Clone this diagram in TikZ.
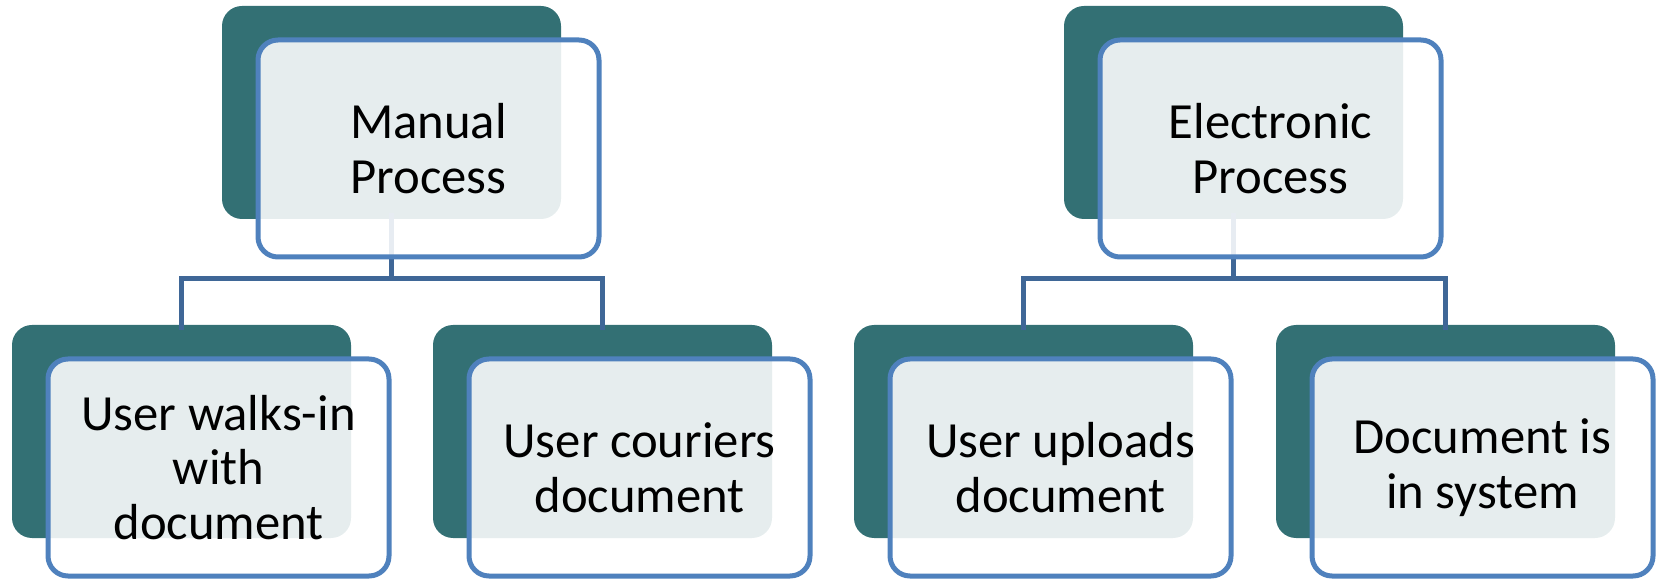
\documentclass[tikz,border=0pt]{standalone}
\usepackage{fontspec}
\setmainfont{Carlito}

\definecolor{tealback}{RGB}{51,112,116}
\definecolor{boxline}{RGB}{79,129,189}
\definecolor{busline}{RGB}{63,103,151}

\tikzset{every picture/.style={line width=0.75pt},
	backbox/.style={fill=tealback, rounded corners=15pt, inner sep=0pt,
		minimum width=254.25pt, minimum height=159.75pt},
	frontbox/.style={draw=boxline, line width=3.75pt, fill=white, fill opacity=0.88, text opacity=1,
		rounded corners=15pt, inner sep=0pt, minimum width=255.75pt, minimum height=162.75pt,
		align=center, font=\fontsize{38}{41}\selectfont, xshift=27.75pt, yshift=-27pt},
	bus/.style={draw=busline, line width=3.75pt}
}

\begin{document}
\begin{tikzpicture}[x=0.75pt,y=0.75pt,yscale=-1,xscale=1]
	\useasboundingbox (0,0) rectangle (1663,580);

	%Shape: Back boxes
	\node[backbox] (mp-back) at (391.5,112.5) {};
	\node[backbox] (ep-back) at (1233.5,112.5) {};
	\node[backbox] (walk-back) at (181.5,431.5) {};
	\node[backbox] (cour-back) at (602.5,431.5) {};
	\node[backbox] (upl-back) at (1023.5,431.5) {};
	\node[backbox] (sys-back) at (1445.5,431.5) {};

	%Connector Lines
	\draw[bus] ([yshift=-4.5pt]mp-back.south) -- ++(0,65) coordinate (mp-bus);
	\draw[bus] ([yshift=4.5pt]walk-back.north) |- (mp-bus) -| ([yshift=4.5pt]cour-back.north);
	\draw[bus] ([yshift=-4.5pt]ep-back.south) -- ++(0,65) coordinate (ep-bus);
	\draw[bus] ([yshift=4.5pt]upl-back.north) |- (ep-bus) -| ([yshift=4.5pt]sys-back.north);

	% Text Nodes
	\node[frontbox] (mp) at (mp-back) {Manual\\Process};
	\node[frontbox] (ep) at (ep-back) {Electronic\\Process};
	\node[frontbox] (walk) at (walk-back) {User walks-in\\with\\document};
	\node[frontbox] (cour) at (cour-back) {User couriers\\document};
	\node[frontbox] (upl) at (upl-back) {User uploads\\document};
	\node[frontbox] (sys) at (sys-back) {Document is\\in system};

\end{tikzpicture}
\end{document}
